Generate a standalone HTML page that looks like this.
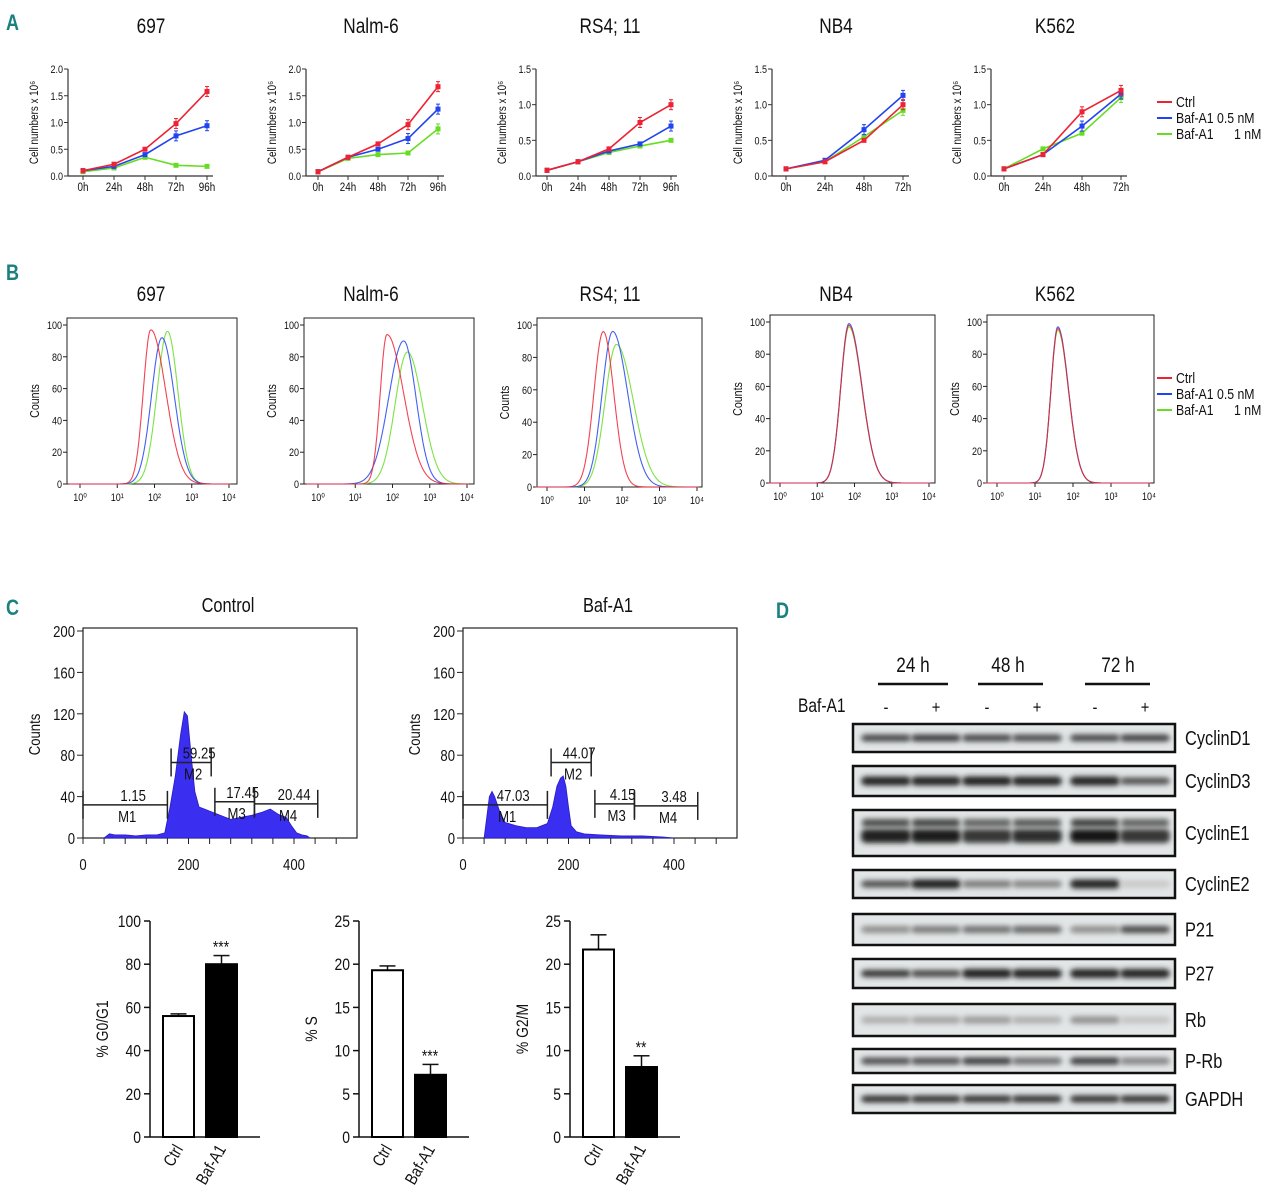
<!DOCTYPE html>
<html><head><meta charset="utf-8"><style>
body{margin:0;background:#fff}
svg{display:block;font-family:"Liberation Sans",sans-serif}
text{white-space:pre}
</style></head><body>
<svg id="s" width="1280" height="1203" viewBox="0 0 1280 1203" xmlns="http://www.w3.org/2000/svg">
<defs><filter id="blur" x="-20%" y="-100%" width="140%" height="300%"><feGaussianBlur stdDeviation="2.6"/></filter></defs>
</svg>
<script>
// ---------- Panel A data ----------
const aTitles=["697","Nalm-6","RS4; 11","NB4","K562"];
const aCats5=["0h","24h","48h","72h","96h"];
const aCats4=["0h","24h","48h","72h"];
const aRed=[[0.1,0.22,0.5,0.98,1.58],[0.08,0.35,0.6,0.96,1.67],[0.08,0.2,0.38,0.75,1.0],[0.1,0.2,0.5,1.0],[0.1,0.3,0.9,1.2]];
const aBlue=[[0.1,0.18,0.4,0.75,0.94],[0.08,0.35,0.5,0.7,1.25],[0.08,0.2,0.35,0.45,0.7],[0.1,0.22,0.65,1.13],[0.1,0.3,0.7,1.15]];
const aGreen=[[0.08,0.15,0.35,0.2,0.18],[0.08,0.33,0.4,0.43,0.88],[0.08,0.2,0.33,0.42,0.5],[0.1,0.2,0.55,0.92],[0.1,0.38,0.6,1.1]];
const aMax=[2.0,2.0,1.5,1.5,1.5];
const aTicks2=["0.0","0.5","1.0","1.5","2.0"];
const aTicks15=["0.0","0.5","1.0","1.5"];
// ---------- Panel B data (peak log position, left sd, right sd, height) ----------
const bPeaksRed=[[1.9,0.2,0.4,97],[1.85,0.18,0.45,94],[1.5,0.25,0.28,96],[1.85,0.22,0.35,98],[1.6,0.18,0.28,96]];
const bPeaksBlue=[[2.2,0.28,0.33,92],[2.3,0.4,0.33,90],[1.75,0.28,0.4,96],[1.85,0.22,0.35,99],[1.6,0.18,0.28,97]];
const bPeaksGreen=[[2.35,0.28,0.28,96],[2.4,0.33,0.4,83],[1.85,0.3,0.45,88],[1.85,0.22,0.35,97],[1.6,0.18,0.28,95]];
const bTickLabels=["10⁰","10¹","10²","10³","10⁴"];
const bYTicks=["0","20","40","60","80","100"];
// ---------- Panel C data ----------
const cCtrlX=[40,50,60,80,100,120,140,155,165,175,185,192,198,205,212,220,230,240,260,280,300,320,340,355,370,385,395,405,415,425,430];
const cCtrlY=[0,4,3,3,2,3,3,5,30,60,100,122,118,80,45,30,28,26,22,18,20,22,25,28,23,20,12,5,3,2,0];
const cBafX=[40,45,50,55,60,70,80,100,120,140,160,170,178,185,190,195,200,205,215,230,260,300,340,380,400];
const cBafY=[0,20,40,45,40,25,15,12,10,10,14,30,50,58,60,50,30,12,6,4,3,2,2,1,0];
const cCtrlMarkers=["1.15","59.25","17.45","20.44"];
const cBafMarkers=["47.03","44.07","4.15","3.48"];
const barG1=[56,80],barS=[19.3,7.2],barG2=[21.7,8.1];
const barErrG1=[1,4],barErrS=[0.5,1.2],barErrG2=[1.7,1.3];
const barCats=["Ctrl","Baf-A1"];
// ---------- Panel D data ----------
const dRows=["CyclinD1","CyclinD3","CyclinE1","CyclinE2","P21","P27","Rb","P-Rb","GAPDH"];
const dIntensity=[[0.75,0.8,0.75,0.72,0.75,0.78],[0.9,0.9,0.95,0.92,0.92,0.7],[0.9,0.95,0.8,0.85,0.97,0.8],[0.7,0.95,0.5,0.45,0.9,0.12],[0.4,0.5,0.55,0.6,0.4,0.75],[0.85,0.75,0.95,0.92,0.9,0.9],[0.25,0.3,0.35,0.25,0.4,0.15],[0.7,0.7,0.8,0.55,0.8,0.45],[0.85,0.85,0.85,0.85,0.85,0.85]];

const S=document.getElementById('s');const NS="http://www.w3.org/2000/svg";
function el(t,a,p){const e=document.createElementNS(NS,t);for(const k in a)e.setAttribute(k,a[k]);(p||S).appendChild(e);return e;}
function tx(x,y,s,size,anchor,extra){extra=Object.assign({},extra||{});
  const tr=(extra.transform||`translate(${x},${y})`)+' scale(0.82,1)';delete extra.transform;
  const e=el('text',Object.assign({x:0,y:0,transform:tr,'font-size':size,'text-anchor':anchor||'middle',fill:'#111'},extra));e.textContent=s;return e;}
function line(x1,y1,x2,y2,c,w){return el('line',{x1,y1,x2,y2,stroke:c||'#222','stroke-width':w||1});}
const RED='#ee2233',BLUE='#2244ee',GREEN='#66dd22';

[["A",6,30],["B",6,280],["C",6,615],["D",776,618]].forEach(l=>{const t=tx(l[1],l[2],l[0],22,'start',{fill:'#1a8080','font-weight':'bold'});});

// ---------- Panel A ----------
const aAxX=[68,306,536,772,991];
const aX0=[83,318,547,786,1004];
const aStep=[31,30,31,39,39];
const aTitleX=[151,371,610,836,1055];
for(let i=0;i<5;i++){
  const g=el('g',{});
  const yb=176,yt=69,ys=v=>yb-v/aMax[i]*(yb-yt);
  const cats=aRed[i].length===5?aCats5:aCats4;
  const xs=k=>aX0[i]+k*aStep[i];
  g.appendChild(tx(aTitleX[i],33,aTitles[i],21,'middle'));
  g.appendChild(line(aAxX[i],yt,aAxX[i],yb,'#333',1.2));
  g.appendChild(line(aAxX[i],yb,xs(cats.length-1)+6,yb,'#333',1.2));
  const tl=aMax[i]===2?aTicks2:aTicks15;
  tl.forEach(l=>{const y=ys(parseFloat(l));g.appendChild(line(aAxX[i]-4,y,aAxX[i],y,'#333'));g.appendChild(tx(aAxX[i]-5,y+4,l,11,'end'));});
  cats.forEach((c,k)=>{g.appendChild(line(xs(k),yb,xs(k),yb+4,'#333'));g.appendChild(tx(xs(k),yb+15,c,12,'middle'));});
  g.appendChild(tx(0,0,'Cell numbers x 10⁶',12,'middle',{transform:`translate(${aAxX[i]-30},${(yb+yt)/2}) rotate(-90)`}));
  [[aGreen[i],GREEN,'green'],[aBlue[i],BLUE,'blue'],[aRed[i],RED,'red']].forEach(sr=>{
    const pl=el('polyline',{points:sr[0].map((v,k)=>xs(k)+','+ys(v)).join(' '),fill:'none',stroke:sr[1],'stroke-width':1.6},g);
    
    sr[0].forEach((v,k)=>{const m=el('rect',{x:xs(k)-2.5,y:ys(v)-2.5,width:5,height:5,fill:sr[1]},g);
      if(v>0.6){g.appendChild(line(xs(k),ys(v)-5,xs(k),ys(v)+5,sr[1]));g.appendChild(line(xs(k)-2,ys(v)-5,xs(k)+2,ys(v)-5,sr[1]));g.appendChild(line(xs(k)-2,ys(v)+5,xs(k)+2,ys(v)+5,sr[1]));}});
  });
}
function legend(y0,nm){const g=el('g',{});
  [["Ctrl",RED],["Baf-A1 0.5 nM",BLUE],["Baf-A1      1 nM",GREEN]].forEach((e,k)=>{const y=y0+k*16;g.appendChild(line(1157,y,1172,y,e[1],2));g.appendChild(tx(1176,y+5,e[0],15,'start'));});}
legend(102,'legend-a');

// ---------- Panel B ----------
const bL=[67,304,537,770,987],bR=[237,474,702,935,1154],bT=[318,318,318,315,315],bB=[484,484,487,483,483];
const bD0=[80,318,547,780,997],bD4=[229,467,697,929,1149];
for(let i=0;i<5;i++){
  const g=el('g',{});
  g.appendChild(tx(aTitleX[i],301,aTitles[i],21,'middle'));
  el('rect',{x:bL[i],y:bT[i],width:bR[i]-bL[i],height:bB[i]-bT[i],fill:'none',stroke:'#222','stroke-width':1},g);
  const ys=v=>bB[i]-v/100*(bB[i]-bT[i]-7),xs=d=>bD0[i]+d*(bD4[i]-bD0[i])/4;
  bYTicks.forEach(l=>{const y=ys(+l);g.appendChild(line(bL[i]-4,y,bL[i],y));g.appendChild(tx(bL[i]-5,y+4,l,11,'end'));});
  bTickLabels.forEach((l,k)=>{g.appendChild(line(xs(k),bB[i],xs(k),bB[i]+4));g.appendChild(tx(xs(k),bB[i]+17,l,11,'middle'));});
  g.appendChild(tx(0,0,'Counts',13,'middle',{transform:`translate(${bL[i]-28},${(bT[i]+bB[i])/2}) rotate(-90)`}));
  [[bPeaksGreen[i],GREEN,'green'],[bPeaksBlue[i],BLUE,'blue'],[bPeaksRed[i],RED,'red']].forEach(sr=>{
    const p=sr[0];let pts=[];for(let d=-0.3;d<=4.05;d+=0.02){const sd=d<p[0]?p[1]:p[2];const v=p[3]*Math.exp(-Math.pow(d-p[0],2)/(2*sd*sd));pts.push(xs(d).toFixed(1)+','+ys(v).toFixed(1));}
    const pl=el('polyline',{points:pts.join(' '),fill:'none',stroke:sr[1],'stroke-width':1.1,'stroke-opacity':0.85},g);
  });
}
legend(378,'legend-b');

// ---------- Panel C histograms ----------
function flow(x0,right,title,X,Y,markers,nm,my){
  const g=el('g',{});
  const yb=838,yt=631,xs=v=>x0+v*(211/400),ys=v=>yb-v*(yb-yt)/200;
  g.appendChild(tx((x0+right)/2+8,612,title,20,'middle'));
  el('rect',{x:x0,y:628,width:right-x0,height:yb-628,fill:'none',stroke:'#222','stroke-width':1.2},g);
  const pts=X.map((x,k)=>xs(x)+','+ys(Y[k])).join(' ');
  const pg=el('polygon',{points:xs(X[0])+','+yb+' '+pts+' '+xs(X[X.length-1])+','+yb,fill:'#3a2ef0',stroke:'#2a1ec0','stroke-width':0.8},g);
  [0,40,80,120,160,200].forEach(v=>{g.appendChild(line(x0-6,ys(v),x0,ys(v)));g.appendChild(tx(x0-8,ys(v)+6,v,16,'end'));});
  [0,200,400].forEach(v=>g.appendChild(tx(xs(v),870,v,16,'middle')));
  for(let v=0;v<=500;v+=40){if(xs(v)<right)g.appendChild(line(xs(v),yb,xs(v),yb+6));}
  g.appendChild(tx(0,0,'Counts',16,'middle',{transform:`translate(${x0-43},${ys(100)}) rotate(-90)`}));
  const ranges=[[0,160],[167,243],[250,325],[325,445]];
  ranges.forEach((r,k)=>{const y=ys(my[k]);g.appendChild(line(xs(r[0]),y,xs(r[1]),y,'#222',1.5));g.appendChild(line(xs(r[0]),y-14,xs(r[0]),y+14,'#222',1.5));g.appendChild(line(xs(r[1]),y-14,xs(r[1]),y+14,'#222',1.5));
    g.appendChild(tx((xs(r[0])+xs(r[1]))/2+8,y-4,markers[k],16,'middle'));
    g.appendChild(tx((xs(r[0])+xs(r[1]))/2+2,y+17,'M'+(k+1),16,'middle'));});
}
flow(83,357,'Control',cCtrlX,cCtrlY,cCtrlMarkers,'flow-control',[32,73,35,33]);
flow(463,737,'Baf-A1',cBafX,cBafY,cBafMarkers,'flow-baf',[32,73,33,31]);

// ---------- Panel C bar charts ----------
function bars(ax,max,ticks,vals,errs,title,nm,stars){
  const g=el('g',{});
  const yb=1137,yt=921,ys=v=>yb-v/max*(yb-yt);
  g.appendChild(line(ax,yt,ax,yb,'#111',1.5));g.appendChild(line(ax,yb,ax+110,yb,'#111',1.5));
  ticks.forEach(v=>{g.appendChild(line(ax-6,ys(v),ax,ys(v),'#111',1.5));g.appendChild(tx(ax-9,ys(v)+6,v,17,'end'));});
  g.appendChild(tx(0,0,title,17,'middle',{transform:`translate(${ax-42},${(yt+yb)/2}) rotate(-90)`}));
  vals.forEach((v,k)=>{const x=ax+13+k*43,w=31,cx=x+w/2;
    g.appendChild(line(cx,ys(v+errs[k]),cx,ys(v),'#111',1.5));g.appendChild(line(cx-8,ys(v+errs[k]),cx+8,ys(v+errs[k]),'#111',1.5));
    const r=el('rect',{x:x,y:ys(v),width:w,height:yb-ys(v),fill:k?'#000':'#fff',stroke:'#000','stroke-width':2},g);
    g.appendChild(tx(0,0,barCats[k],17,'end',{transform:`translate(${cx+5},${yb+12}) rotate(-60)`}));
  });
  g.appendChild(tx(ax+13+43+15,ys(vals[1]+errs[1])-3,stars,17,'middle'));
}
bars(150,100,[0,20,40,60,80,100],barG1,barErrG1,'% G0/G1','bar-chart-g0g1','***');
bars(359,25,[0,5,10,15,20,25],barS,barErrS,'% S','bar-chart-s','***');
bars(570,25,[0,5,10,15,20,25],barG2,barErrG2,'% G2/M','bar-chart-g2m','**');

// ---------- Panel D ----------
const dg=el('g',{});
[["24 h",913,878,948],["48 h",1008,978,1043],["72 h",1118,1085,1150]].forEach(h=>{dg.appendChild(tx(h[1],672,h[0],21,'middle'));dg.appendChild(line(h[2],684,h[3],684,'#111',2.5));});
dg.appendChild(tx(798,712,'Baf-A1',19,'start'));
const lanes=[886,936,987,1037,1095,1145];
lanes.forEach((x,k)=>dg.appendChild(tx(x,713,k%2?'+':'-',18,'middle')));
const rowY=[[724,752],[766,796],[810,856],[870,898],[914,945],[959,988],[1004,1036],[1049,1073],[1085,1113]];
dRows.forEach((n,r)=>{
  const rg=el('g',{},dg);
  const y0=rowY[r][0],y1=rowY[r][1],cy=(y0+y1)/2;
  el('rect',{x:853,y:y0,width:322,height:y1-y0,fill:'#e2e6e6',stroke:'#111','stroke-width':2.5},rg);
  dIntensity[r].forEach((v,k)=>{const c=Math.round(225-v*210);
    const bh=r===2?14:(v>0.85?9:7);
    el('rect',{x:lanes[k]-25,y:(r===2?cy+3:cy)-bh/2,width:50,height:bh,rx:5,fill:`rgb(${c},${c},${c})`,filter:'url(#blur)'},rg);
    if(r===2)el('rect',{x:lanes[k]-24,y:y0+9,width:48,height:8,rx:3,fill:`rgb(${c+40},${c+40},${c+40})`,filter:'url(#blur)'},rg);
  });
  rg.appendChild(tx(1185,cy+7,n,20,'start'));
});
</script>
</body></html>
